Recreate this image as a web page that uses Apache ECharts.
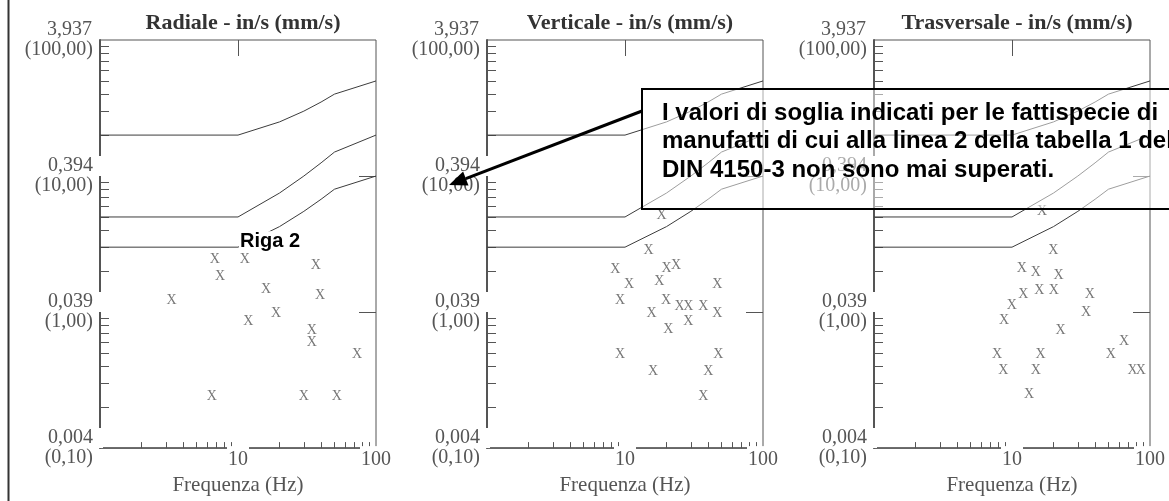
<!DOCTYPE html>
<html>
<head>
<meta charset="utf-8">
<script src="https://cdn.jsdelivr.net/npm/echarts@6/dist/echarts.min.js"></script>
<style>
  html, body { margin: 0; padding: 0; background: #fff; }
  #chart { width: 1169px; height: 501px; }
</style>
</head>
<body>
<div id="chart"></div>
<script>
// Panel titles (velocity components)
const panelTitles = ['Radiale - in/s (mm/s)', 'Verticale - in/s (mm/s)', 'Trasversale - in/s (mm/s)'];

// Y tick labels: in/s over (mm/s)
const yLabelValues = [0.1, 1, 10, 100];
const yLabelTop = ['0,004', '0,039', '0,394', '3,937'];
const yLabelBottom = ['(0,10)', '(1,00)', '(10,00)', '(100,00)'];
const xLabelValues = [10, 100];
const xLabelTexts = ['10', '100'];
const xAxisName = 'Frequenza (Hz)';

// DIN 4150-3 threshold curves (mm/s vs Hz)
const thresholdFreq = [1, 10, 20, 30, 40, 50, 100];
const thresholdLine1 = [20, 20, 25, 30, 35, 40, 50];
const thresholdLine2 = [5, 5, 7.5, 10, 12.5, 15, 20];
const thresholdLine3 = [3, 3, 4.25, 5.5, 6.75, 8, 10];

// Measured peaks: frequency (Hz) and velocity (mm/s)
const radialFreq = [3.3, 6.8, 11.2, 7.4, 36.7, 16.0, 39.3, 18.9, 11.9, 34.2, 34.2, 73, 6.45, 30, 52];
const radialVel  = [1.23, 2.46, 2.46, 1.83, 2.2, 1.47, 1.33, 0.985, 0.857, 0.734, 0.6, 0.486, 0.24, 0.24, 0.24];

const verticalFreq = [18.4, 14.8, 8.5, 20.0, 23.4, 10.7, 17.7, 46.7, 9.2, 19.8, 24.8, 28.7, 36.9, 46.7, 15.6, 28.7, 20.6, 9.2, 47.4, 16.0, 40.2, 36.9];
const verticalVel  = [5.18, 2.85, 2.06, 2.10, 2.20, 1.60, 1.68, 1.60, 1.23, 1.23, 1.11, 1.11, 1.11, 0.985, 0.985, 0.857, 0.746, 0.485, 0.485, 0.367, 0.367, 0.24];

const transvFreq = [16.5, 19.9, 11.8, 14.9, 21.7, 12.1, 15.8, 20.1, 9.95, 8.75, 36.7, 34.4, 22.5, 64.8, 51.9, 7.8, 16.1, 8.65, 14.9, 74.9, 85.6, 13.3];
const transvVel  = [5.47, 2.82, 2.08, 1.95, 1.86, 1.35, 1.45, 1.45, 1.13, 0.867, 1.35, 0.995, 0.734, 0.609, 0.487, 0.49, 0.485, 0.37, 0.37, 0.37, 0.37, 0.247];

const lineLabel = 'Riga 2';
const noteText = 'I valori di soglia indicati per le fattispecie di\nmanufatti di cui alla linea 2 della tabella 1 del\nDIN 4150-3 non sono mai superati.';

// minor / major tick positions on the log axes
const xMinorTicks = [2, 3, 4, 5, 6, 7, 8, 9, 20, 30, 40, 50, 60, 70, 80, 90];
const xMajorTicks = [10];
const yMinorTicks = [0.2, 0.3, 0.4, 0.5, 0.6, 0.7, 0.8, 0.9, 2, 3, 4, 5, 6, 7, 8, 9, 20, 30, 40, 50, 60, 70, 80, 90];
const yMajorTicks = [1, 10];

const panels = [
  { freq: radialFreq, vel: radialVel },
  { freq: verticalFreq, vel: verticalVel },
  { freq: transvFreq, vel: transvVel }
];

const SERIF = '"Liberation Serif", "Times New Roman", serif';
const SANS = '"Liberation Sans", Arial, sans-serif';
const AXIS_COLOR = '#555';
const gridLefts = [100, 487, 874];
const gridW = 276, gridTop = 40, gridH = 416;

const pairs = (xs, ys) => xs.map((x, i) => [x, ys[i]]);
const findTick = (list, v) => list.findIndex(t => Math.abs(t - v) / t < 1e-6);

const grids = [], xAxes = [], yAxes = [], series = [], titles = [];

gridLefts.forEach((left, p) => {
  grids.push({
    left: left, top: gridTop, width: gridW, height: gridH,
    show: true, borderColor: AXIS_COLOR, borderWidth: 1, backgroundColor: 'transparent'
  });
  titles.push({
    text: panelTitles[p],
    left: left + gridW / 2, top: 7, textAlign: 'center',
    textStyle: { fontFamily: SERIF, fontWeight: 'bold', fontSize: 22, color: '#333' }
  });
  // main x axis: line, minor ticks, labels (opaque, breaking the axis line), name
  xAxes.push({
    type: 'log', logBase: 10, min: 1, max: 100, gridIndex: p,
    axisLine: { show: true, lineStyle: { color: AXIS_COLOR, width: 1.5 } },
    axisTick: { show: true, inside: true, length: 6, customValues: xMinorTicks, lineStyle: { color: AXIS_COLOR } },
    axisLabel: {
      show: true, margin: -2, customValues: xLabelValues,
      formatter: v => { const i = findTick(xLabelValues, v); return i >= 0 ? xLabelTexts[i] : ''; },
      fontFamily: SERIF, fontSize: 20, color: AXIS_COLOR,
      backgroundColor: '#fff', padding: [4, 1, 0, 1]
    },
    splitLine: { show: false },
    name: xAxisName, nameLocation: 'middle', nameGap: 19,
    nameTextStyle: { fontFamily: SERIF, fontSize: 21, color: AXIS_COLOR }
  });
  // decade ticks on x
  xAxes.push({
    type: 'log', logBase: 10, min: 1, max: 100, gridIndex: p,
    axisLine: { show: false },
    axisTick: { show: true, inside: true, length: 16, customValues: xMajorTicks, lineStyle: { color: AXIS_COLOR } },
    axisLabel: { show: false },
    splitLine: { show: false }
  });
  yAxes.push({
    type: 'log', logBase: 10, min: 0.1, max: 100, gridIndex: p,
    axisLine: { show: true, lineStyle: { color: AXIS_COLOR, width: 2 } },
    axisTick: { show: true, inside: true, length: 9, customValues: yMinorTicks, lineStyle: { color: AXIS_COLOR } },
    axisLabel: {
      show: true, margin: -3, customValues: yLabelValues,
      formatter: v => {
        const i = findTick(yLabelValues, v);
        if (i < 0) return '';
        const topStyle = i === 3 ? 'u' : 't';
        return '{' + topStyle + '|' + yLabelTop[i] + '}\n{b|' + yLabelBottom[i] + '}';
      },
      fontFamily: SERIF, fontSize: 20, lineHeight: 20, color: AXIS_COLOR,
      rich: {
        t: { fontFamily: SERIF, fontSize: 20, lineHeight: 20, color: AXIS_COLOR, backgroundColor: '#fff', padding: [0, 10, 0, 0] },
        u: { fontFamily: SERIF, fontSize: 20, lineHeight: 20, color: AXIS_COLOR, padding: [0, 11, 0, 0] },
        b: { fontFamily: SERIF, fontSize: 20, lineHeight: 20, color: AXIS_COLOR, padding: [0, 10, 0, 0] }
      }
    },
    splitLine: { show: false }
  });
  yAxes.push({
    type: 'log', logBase: 10, min: 0.1, max: 100, gridIndex: p,
    axisLine: { show: false },
    axisTick: { show: true, inside: true, length: 17, customValues: yMajorTicks, lineStyle: { color: AXIS_COLOR } },
    axisLabel: { show: false },
    splitLine: { show: false }
  });

  const xi = p * 2, yi = p * 2;
  [thresholdLine1, thresholdLine2, thresholdLine3].forEach((vals, k) => {
    const s = {
      type: 'line', xAxisIndex: xi, yAxisIndex: yi,
      data: pairs(thresholdFreq, vals),
      symbol: 'none', silent: true, animation: false,
      lineStyle: { color: '#3c3c3c', width: 1 }, z: 2
    };
    if (p === 0 && k === 2) {
      s.markPoint = {
        silent: true, animation: false,
        symbol: 'circle', symbolSize: 0,
        data: [{ coord: [thresholdFreq[1], vals[1]] }],
        label: {
          show: true, formatter: lineLabel, position: 'inside', offset: [32, -6],
          fontFamily: SANS, fontWeight: 'bold', fontSize: 20, color: '#000',
          backgroundColor: '#fff', padding: [0, 1]
        }
      };
    }
    series.push(s);
  });
  series.push({
    type: 'scatter', xAxisIndex: xi, yAxisIndex: yi,
    data: pairs(panels[p].freq, panels[p].vel),
    symbol: 'circle', symbolSize: 1, silent: true, animation: false,
    itemStyle: { color: 'rgba(0,0,0,0)' },
    label: {
      show: true, position: 'inside', formatter: 'X',
      fontFamily: SERIF, fontSize: 14, color: '#555',
      backgroundColor: '#fff', padding: [1, 0, 0, 0]
    },
    z: 3
  });
});

// annotation arrow from the note box towards the left side of the middle panel
const arrowFrom = [642, 111], arrowTip = [449, 185];
const dx = arrowTip[0] - arrowFrom[0], dy = arrowTip[1] - arrowFrom[1];
const len = Math.hypot(dx, dy), ux = dx / len, uy = dy / len;
const headLen = 18, headHalf = 7.5;
const base = [arrowTip[0] - ux * headLen, arrowTip[1] - uy * headLen];
const nx = -uy, ny = ux;

const graphic = [
  { type: 'line', z: 100, shape: { x1: 8.5, y1: 0, x2: 8.5, y2: 501 }, style: { stroke: '#333', lineWidth: 2 } },
  { type: 'line', z: 100, shape: { x1: arrowFrom[0], y1: arrowFrom[1], x2: base[0], y2: base[1] }, style: { stroke: '#000', lineWidth: 3 } },
  { type: 'polygon', z: 100, shape: { points: [arrowTip, [base[0] + nx * headHalf, base[1] + ny * headHalf], [base[0] - nx * headHalf, base[1] - ny * headHalf]] }, style: { fill: '#000' } },
  { type: 'rect', z: 101, shape: { x: 642, y: 89, width: 560, height: 120 }, style: { fill: 'rgba(255,255,255,0.5)', stroke: '#000', lineWidth: 2 } },
  { type: 'text', z: 102, x: 662, y: 99, style: { text: noteText, font: 'bold 24px "Liberation Sans", Arial, sans-serif', fill: '#000', lineHeight: 28.5, verticalAlign: 'top' } }
];

const chart = echarts.init(document.getElementById('chart'), null, { renderer: 'canvas' });
chart.setOption({
  animation: false,
  backgroundColor: '#fff',
  title: titles,
  grid: grids,
  xAxis: xAxes,
  yAxis: yAxes,
  series: series,
  graphic: graphic
});
</script>
</body>
</html>
